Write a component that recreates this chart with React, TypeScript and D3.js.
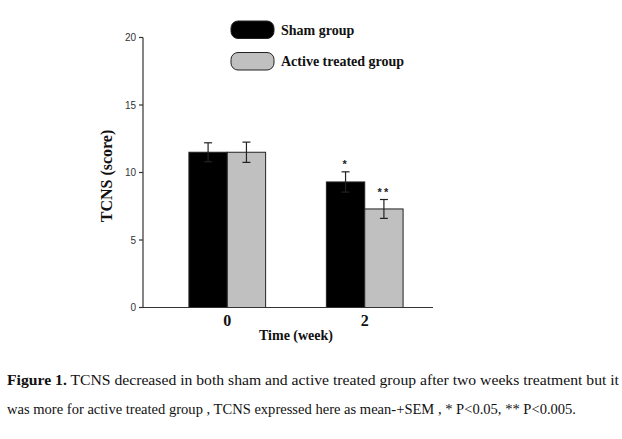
import * as d3 from 'd3'

const weeks = ['0', '2']
const groups = ['Sham group', 'Active treated group']
const shamMean = [11.5, 9.3]
const shamSem = [0.7, 0.75]
const activeMean = [11.5, 7.3]
const activeSem = [0.75, 0.7]
const sigMarks = [['', ''], ['*', '**']]
const yTicks = [0, 5, 10, 15, 20]
const groupColors = ['#000000', '#c0c0c0']

const W = 622
const H = 439
const serif = '"Liberation Serif", "DejaVu Serif", serif'
const sans = '"Liberation Sans", Arial, sans-serif'

export default function App() {
  const y = d3.scaleLinear().domain([0, 20]).range([307.5, 37.5])
  const x0 = d3
    .scaleBand<string>()
    .domain(weeks)
    .range([143, 449])
    .paddingInner(0.442)
    .paddingOuter(0.334)
  const x1 = d3.scaleBand<string>().domain(groups).range([0, x0.bandwidth()])

  const means = [shamMean, activeMean]
  const sems = [shamSem, activeSem]

  return (
    <svg
      width={W}
      height={H}
      style={{ position: 'absolute', left: 0, top: 0, background: '#fff' }}
    >
      <rect width={W} height={H} fill="#fff" />

      {/* bars */}
      {weeks.map((wk, i) => (
        <g key={wk} transform={`translate(${x0(wk)},0)`}>
          {groups.map((g, j) => {
            const m = means[j][i]
            const s = sems[j][i]
            const bx = x1(g)!
            const cx = bx + x1.bandwidth() / 2
            return (
              <g key={g}>
                <rect
                  x={bx}
                  y={y(m)}
                  width={x1.bandwidth()}
                  height={y(0) - y(m)}
                  fill={groupColors[j]}
                  stroke="#222"
                  strokeWidth={1}
                />
                <line x1={cx} x2={cx} y1={y(m + s)} y2={y(m - s)} stroke="#222" strokeWidth={1.2} />
                <line x1={cx - 4} x2={cx + 4} y1={y(m + s)} y2={y(m + s)} stroke="#222" strokeWidth={1.2} />
                <line x1={cx - 4} x2={cx + 4} y1={y(m - s)} y2={y(m - s)} stroke="#222" strokeWidth={1.2} />
                {sigMarks[i][j] && (
                  <text
                    x={cx}
                    y={y(m + s) - 4}
                    textAnchor="middle"
                    style={{ fontFamily: sans }}
                    fontSize={11}
                    fontWeight="bold"
                    fill="#222"
                    letterSpacing={2}
                  >
                    {sigMarks[i][j]}
                  </text>
                )}
              </g>
            )
          })}
        </g>
      ))}

      {/* y axis */}
      <line x1={143} x2={143} y1={y(20)} y2={y(0)} stroke="#333" strokeWidth={1.2} />
      {yTicks.map((t) => (
        <g key={t}>
          <line x1={139} x2={143} y1={y(t)} y2={y(t)} stroke="#333" strokeWidth={1.2} />
          <text
            x={136}
            y={y(t)}
            dy="0.35em"
            textAnchor="end"
            style={{ fontFamily: sans }}
            fontSize={10}
            fill="#333"
          >
            {t}
          </text>
        </g>
      ))}

      {/* x axis */}
      <line x1={143} x2={433} y1={y(0)} y2={y(0)} stroke="#333" strokeWidth={1.2} />
      {weeks.map((wk) => (
        <text
          key={wk}
          x={x0(wk)! + x0.bandwidth() / 2}
          y={326}
          textAnchor="middle"
          style={{ fontFamily: serif }}
          fontWeight="bold"
          fontSize={16}
          fill="#111"
        >
          {wk}
        </text>
      ))}
      <text x={296} y={340} textAnchor="middle" style={{ fontFamily: serif }} fontWeight="bold" fontSize={14} fill="#111">
        Time (week)
      </text>
      <text
        transform="translate(112,176) rotate(-90)"
        textAnchor="middle"
        style={{ fontFamily: serif }}
        fontWeight="bold"
        fontSize={16}
        fill="#111"
      >
        TCNS (score)
      </text>

      {/* legend */}
      {groups.map((g, j) => (
        <g key={g} transform={`translate(231,${21 + j * 31.5})`}>
          <rect width={43} height={17.5} rx={7} fill={groupColors[j]} stroke="#222" strokeWidth={1} />
          <text x={50} y={9} dy="0.35em" style={{ fontFamily: serif }} fontWeight="bold" fontSize={14} fill="#111">
            {g}
          </text>
        </g>
      ))}

      {/* caption */}
      <text x={7} y={385} style={{ fontFamily: serif }} fontSize={14.5} fill="#111" textLength={612} lengthAdjust="spacingAndGlyphs">
        <tspan fontWeight="bold">Figure 1.</tspan> TCNS decreased in both sham and active treated group after two weeks treatment but it
      </text>
      <text x={7} y={414} style={{ fontFamily: serif }} fontSize={14.5} fill="#111" textLength={569} lengthAdjust="spacingAndGlyphs">
        was more for active treated group , TCNS expressed here as mean-+SEM , * P&lt;0.05, ** P&lt;0.005.
      </text>
    </svg>
  )
}
